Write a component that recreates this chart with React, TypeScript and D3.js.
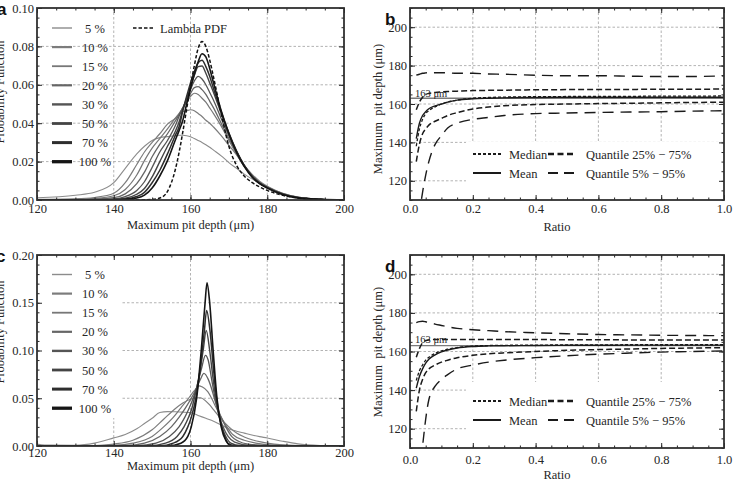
import { useEffect, useRef } from "react";
import * as d3 from "d3";

const WIDTH = 736;
const HEIGHT = 480;

// Inspected share of the surface, one curve per level in panels (a) and (c)
const LEVELS = ["5 %", "10 %", "15 %", "20 %", "30 %", "50 %", "70 %", "100 %"];

// Panel (a): probability function of the maximum pit depth (µm)
const DEPTH_A = [
  120, 130, 135, 140, 143, 146, 148, 150, 152, 154, 156, 157, 158, 159, 160, 161,
  162, 163, 164, 165, 166, 168, 170, 172, 174, 176, 178, 180, 184, 188, 194, 200,
];
const PDF_A_05 = [
  0.0012, 0.0025, 0.004, 0.009, 0.0165, 0.024, 0.028, 0.031, 0.0325, 0.033, 0.0335, 0.0337, 0.0337, 0.0335, 0.033, 0.032,
  0.031, 0.03, 0.0288, 0.0275, 0.026, 0.023, 0.0195, 0.0165, 0.0135, 0.011, 0.0088, 0.007, 0.0035, 0.0015, 0.0004, 0,
];
const PDF_A_10 = [
  0.0003, 0.0006, 0.0013, 0.0035, 0.009, 0.0185, 0.025, 0.03, 0.0345, 0.0395, 0.0425, 0.0445, 0.046, 0.0465, 0.047, 0.0465,
  0.045, 0.0435, 0.0415, 0.04, 0.038, 0.0335, 0.0285, 0.0235, 0.018, 0.0135, 0.0098, 0.0072, 0.0035, 0.0015, 0.0004, 0,
];
const PDF_A_15 = [
  0.0002, 0.0004, 0.0008, 0.0022, 0.0055, 0.013, 0.0205, 0.027, 0.032, 0.037, 0.0425, 0.045, 0.048, 0.051, 0.054, 0.0556,
  0.055, 0.053, 0.051, 0.048, 0.045, 0.0385, 0.031, 0.024, 0.0175, 0.0125, 0.0092, 0.0068, 0.0033, 0.0014, 0.0004, 0,
];
const PDF_A_20 = [
  0.0001, 0.0002, 0.0005, 0.0012, 0.0032, 0.0085, 0.0145, 0.0225, 0.029, 0.0345, 0.041, 0.0445, 0.048, 0.052, 0.0555, 0.0585,
  0.059, 0.0575, 0.055, 0.0515, 0.048, 0.04, 0.032, 0.0245, 0.0175, 0.0125, 0.009, 0.0066, 0.0032, 0.0014, 0.0003, 0,
];
const PDF_A_30 = [
  0, 0.0001, 0.0002, 0.0006, 0.0018, 0.005, 0.0095, 0.017, 0.025, 0.031, 0.0385, 0.0435, 0.048, 0.0525, 0.0575, 0.062,
  0.0644, 0.063, 0.06, 0.056, 0.052, 0.0425, 0.0335, 0.0252, 0.018, 0.0127, 0.009, 0.0066, 0.0032, 0.0013, 0.0003, 0,
];
const PDF_A_50 = [
  0, 0, 0.0001, 0.0003, 0.0009, 0.003, 0.006, 0.012, 0.02, 0.028, 0.0355, 0.0405, 0.047, 0.053, 0.059, 0.065,
  0.0695, 0.0698, 0.066, 0.061, 0.056, 0.045, 0.0345, 0.0255, 0.018, 0.0125, 0.0088, 0.0065, 0.003, 0.0012, 0.0003, 0,
];
const PDF_A_70 = [
  0, 0, 0, 0.0002, 0.0005, 0.0018, 0.004, 0.009, 0.0155, 0.024, 0.0335, 0.038, 0.0465, 0.054, 0.061, 0.067,
  0.0715, 0.0728, 0.0695, 0.0645, 0.058, 0.046, 0.035, 0.0255, 0.018, 0.0125, 0.0087, 0.0064, 0.003, 0.0012, 0.0003, 0,
];
const PDF_A_100 = [
  0, 0, 0, 0.0001, 0.0003, 0.001, 0.0025, 0.0062, 0.0125, 0.0205, 0.031, 0.036, 0.0415, 0.05, 0.058, 0.0655,
  0.072, 0.0762, 0.0745, 0.0685, 0.061, 0.0465, 0.0345, 0.0248, 0.0175, 0.012, 0.0085, 0.0062, 0.0029, 0.0011, 0.0003, 0,
];
const LAMBDA_A = [
  0, 0, 0, 0, 0, 0, 0.0001, 0.0003, 0.001, 0.0045, 0.0155, 0.0245, 0.0355, 0.0475, 0.059, 0.07,
  0.079, 0.0825, 0.08, 0.073, 0.064, 0.045, 0.028, 0.018, 0.0125, 0.0092, 0.0068, 0.005, 0.0024, 0.001, 0.0002, 0,
];

// Panel (c): same levels, second data set, as (depth, probability) pairs
const PDF_C_05: [number, number][] = [
  [120, 0.002], [122, 0.001], [130, 0.0008], [135, 0.003], [140, 0.0085], [143, 0.012], [146, 0.018],
  [148, 0.0235], [150, 0.029], [152, 0.035], [154, 0.036], [156, 0.0358], [158, 0.0355], [160, 0.035],
  [162, 0.032], [164, 0.029], [166, 0.026], [168, 0.022], [170, 0.018], [172, 0.0155], [174, 0.0135],
  [176, 0.0115], [178, 0.0098], [180, 0.0084], [184, 0.005], [188, 0.0022], [194, 0.0005], [200, 0],
];
const PDF_C_10: [number, number][] = [
  [120, 0], [135, 0.0005], [140, 0.002], [145, 0.006], [150, 0.017], [153, 0.028], [156, 0.039],
  [158, 0.045], [160, 0.049], [162.6, 0.0505], [164, 0.047], [165, 0.043], [166, 0.038], [167, 0.033],
  [168, 0.028], [169, 0.024], [170, 0.02], [172, 0.0135], [174, 0.0095], [176, 0.0065], [178, 0.0045],
  [180, 0.003], [184, 0.0012], [188, 0.0004], [200, 0],
];
const PDF_C_15: [number, number][] = [
  [120, 0], [140, 0.0008], [145, 0.003], [150, 0.01], [153, 0.02], [155.5, 0.03], [157.5, 0.04],
  [159.5, 0.05], [161, 0.058], [162.3, 0.063], [163, 0.062], [164.5, 0.057], [165.5, 0.05], [166.7, 0.04],
  [168, 0.03], [169.5, 0.02], [171, 0.012], [174, 0.006], [177, 0.003], [181, 0.001], [200, 0],
];
const PDF_C_20: [number, number][] = [
  [120, 0], [143, 0.0005], [148, 0.003], [152, 0.01], [155, 0.02], [157, 0.03], [158.7, 0.04],
  [160.2, 0.05], [161.5, 0.06], [162.6, 0.07], [163.5, 0.076], [164.6, 0.07], [165.5, 0.06], [166.2, 0.05],
  [167, 0.04], [168, 0.03], [169.2, 0.02], [170.7, 0.01], [172.5, 0.005], [175, 0.002], [180, 0.0005], [200, 0],
];
const PDF_C_30: [number, number][] = [
  [120, 0], [146, 0.0004], [151, 0.003], [154.5, 0.01], [157, 0.02], [158.5, 0.03], [159.7, 0.04],
  [160.7, 0.05], [161.5, 0.06], [162.8, 0.08], [163.9, 0.095], [164.6, 0.09], [165.5, 0.07], [166.4, 0.05],
  [167.6, 0.03], [168.5, 0.02], [169.8, 0.01], [171.5, 0.004], [175, 0.001], [200, 0],
];
const PDF_C_50: [number, number][] = [
  [120, 0], [149, 0.0003], [153.5, 0.003], [156.5, 0.01], [158.3, 0.02], [159.5, 0.03], [160.4, 0.04],
  [161, 0.05], [162.1, 0.07], [163.3, 0.1], [164.1, 0.121], [165, 0.1], [165.9, 0.07], [166.6, 0.05],
  [167.5, 0.03], [168.2, 0.02], [169.2, 0.01], [170.5, 0.003], [173, 0.0005], [200, 0],
];
const PDF_C_70: [number, number][] = [
  [120, 0], [152, 0.0003], [155.5, 0.003], [158, 0.01], [159.3, 0.02], [160.2, 0.03], [161.4, 0.05],
  [162.5, 0.08], [163.6, 0.12], [164.2, 0.142], [165.1, 0.12], [166, 0.08], [166.8, 0.05], [167.6, 0.03],
  [168.9, 0.01], [170, 0.002], [172, 0], [200, 0],
];
const PDF_C_100: [number, number][] = [
  [120, 0], [154, 0.0003], [157.5, 0.003], [159.3, 0.01], [160.2, 0.02], [161.6, 0.05], [162.8, 0.1],
  [163.8, 0.15], [164.3, 0.171], [165, 0.15], [165.9, 0.1], [166.9, 0.05], [168, 0.02], [169.3, 0.005],
  [170.5, 0.0005], [172, 0], [200, 0],
];

// Panels (b) and (d): statistics of the maximum pit depth versus inspected ratio
const RATIO = [0.02, 0.03, 0.04, 0.05, 0.06, 0.08, 0.1, 0.12, 0.15, 0.2, 0.25, 0.3, 0.4, 0.5, 0.6, 0.7, 0.8, 0.9, 1.0];

const MEAN_B = [142, 150, 154, 156, 157.5, 159, 160, 161, 162, 162.7, 163, 163.2, 163.4, 163.5, 163.5, 163.5, 163.5, 163.5, 163.5];
const MEDIAN_B = [138, 147, 152, 155, 156.5, 158.5, 160, 161, 162, 163, 163.4, 163.6, 163.8, 163.9, 164, 164, 164.1, 164.1, 164.2];
const Q75_B = [157, 161, 163.5, 165, 165.5, 166, 166.3, 166.5, 166.7, 167, 167.1, 167.2, 167.4, 167.5, 167.6, 167.6, 167.7, 167.7, 167.8];
const Q25_B = [130, 139, 144.5, 147, 149, 151, 152.5, 154, 155.5, 157.4, 158.4, 159.1, 159.7, 160, 160.2, 160.4, 160.6, 160.8, 160.9];
const Q95_B = [175, 175.5, 176, 176.2, 176.3, 176.3, 176.3, 176.2, 176, 176, 175.6, 175.5, 175, 174.7, 174.7, 174.5, 174.3, 174.3, 174.7];
const Q05_B = [92, 103, 114, 123, 130, 139, 143.5, 147.5, 150, 152, 153, 154, 155, 155.3, 155.6, 155.8, 156, 156.3, 156.5];

const MEAN_D = [141, 147, 151, 154, 156, 158.3, 159.8, 160.8, 161.8, 162.6, 162.9, 163, 163.1, 163.2, 163.2, 163.3, 163.3, 163.3, 163.3];
const MEDIAN_D = [145, 150, 153, 155.5, 157, 159, 160.3, 161.2, 162, 162.8, 163.1, 163.2, 163.3, 163.4, 163.4, 163.5, 163.5, 163.5, 163.5];
const Q75_D = [157, 161.5, 164.5, 165.6, 166, 166.2, 166.2, 166.2, 166.2, 166.2, 166.2, 166.2, 166.2, 166.1, 166.1, 166, 166, 166, 166];
const Q25_D = [129, 140, 145.5, 149, 151, 153, 154.5, 155.5, 156.8, 158, 158.8, 159.3, 160, 160.6, 161, 161.3, 161.6, 161.8, 162];
const Q95_D = [175, 175.5, 175.7, 175.4, 175, 174.2, 173.5, 172.8, 172, 171.3, 170.8, 170.3, 169.7, 169.2, 168.8, 168.6, 168.4, 168.3, 168.2];
const Q05_D = [85, 98, 111, 125, 135, 142, 145.5, 148, 151, 153, 154.5, 155.5, 156.8, 157.8, 158.6, 159.2, 159.7, 160, 160.3];

const REFERENCE_DEPTH = 163;
const REFERENCE_LABEL = "163 μm";

// ---------------------------------------------------------------- styles
const SERIF = "'Liberation Serif', 'Times New Roman', serif";
const SANS = "'Liberation Sans', Arial, sans-serif";
const INK = "#262626";
const GRID = "#a0a0a0";
const FONT = 12.5;

const LEVEL_COLORS = ["#8c8c8c", "#7c7c7c", "#777777", "#666666", "#555555", "#444444", "#2e2e2e", "#151515"];
const LEVEL_WIDTHS = [1.1, 1.2, 1.2, 1.3, 1.3, 1.4, 1.5, 1.6];
const LEGEND_WIDTHS = [1.4, 2.2, 1.8, 2.2, 2.4, 2.8, 3, 3.3];

interface Frame {
  left: number;
  right: number;
  top: number;
  bottom: number;
}

type Sel = d3.Selection<SVGGElement, unknown, null, undefined>;

interface AxisSpec {
  xMajor: number[];
  xMinor: number[];
  yMajor: number[];
  yMinor: number[];
  xFormat: (v: number) => string;
  yFormat: (v: number) => string;
  xPad: number;
}

function styleAxis(s: Sel) {
  s.select(".domain").remove();
  s.selectAll("line").attr("stroke", INK).attr("stroke-width", 1);
  s.selectAll("text").attr("fill", INK).attr("font-family", SERIF).attr("font-size", FONT);
}

function drawGrid(g: Sel, x: d3.ScaleLinear<number, number>, y: d3.ScaleLinear<number, number>, f: Frame, gx: number[], gy: number[]) {
  const grid = g.append("g").attr("stroke", GRID).attr("stroke-width", 0.8).attr("stroke-dasharray", "2.5,2");
  gx.forEach((v) => {
    grid.append("line").attr("x1", x(v)).attr("x2", x(v)).attr("y1", f.top).attr("y2", f.bottom);
  });
  gy.forEach((v) => {
    grid.append("line").attr("x1", f.left).attr("x2", f.right).attr("y1", y(v)).attr("y2", y(v));
  });
}

function drawFrame(g: Sel, x: d3.ScaleLinear<number, number>, y: d3.ScaleLinear<number, number>, f: Frame, spec: AxisSpec) {
  const none = () => "";
  g.append("g")
    .attr("transform", `translate(0,${f.bottom})`)
    .call(d3.axisBottom(x).tickValues(spec.xMajor).tickSize(-5).tickPadding(spec.xPad).tickFormat((v) => spec.xFormat(Number(v))))
    .call(styleAxis);
  g.append("g")
    .attr("transform", `translate(0,${f.bottom})`)
    .call(d3.axisBottom(x).tickValues(spec.xMinor).tickSize(-2.5).tickFormat(none))
    .call(styleAxis);
  g.append("g")
    .attr("transform", `translate(0,${f.top})`)
    .call(d3.axisTop(x).tickValues(spec.xMajor).tickSize(-5).tickFormat(none))
    .call(styleAxis);
  g.append("g")
    .attr("transform", `translate(0,${f.top})`)
    .call(d3.axisTop(x).tickValues(spec.xMinor).tickSize(-2.5).tickFormat(none))
    .call(styleAxis);
  g.append("g")
    .attr("transform", `translate(${f.left},0)`)
    .call(d3.axisLeft(y).tickValues(spec.yMajor).tickSize(-5).tickPadding(3).tickFormat((v) => spec.yFormat(Number(v))))
    .call(styleAxis);
  g.append("g")
    .attr("transform", `translate(${f.left},0)`)
    .call(d3.axisLeft(y).tickValues(spec.yMinor).tickSize(-2.5).tickFormat(none))
    .call(styleAxis);
  g.append("g")
    .attr("transform", `translate(${f.right},0)`)
    .call(d3.axisRight(y).tickValues(spec.yMajor).tickSize(-5).tickFormat(none))
    .call(styleAxis);
  g.append("g")
    .attr("transform", `translate(${f.right},0)`)
    .call(d3.axisRight(y).tickValues(spec.yMinor).tickSize(-2.5).tickFormat(none))
    .call(styleAxis);
  g.append("rect")
    .attr("x", f.left)
    .attr("y", f.top)
    .attr("width", f.right - f.left)
    .attr("height", f.bottom - f.top)
    .attr("fill", "none")
    .attr("stroke", "#303030")
    .attr("stroke-width", 1.8);
}

function addText(g: Sel, x: number, y: number, text: string, size = FONT, anchor = "start") {
  return g
    .append("text")
    .attr("x", x)
    .attr("y", y)
    .attr("text-anchor", anchor)
    .attr("font-family", SERIF)
    .attr("font-size", size)
    .attr("fill", INK)
    .style("white-space", "pre")
    .text(text);
}

function addLetter(g: Sel, x: number, y: number, letter: string) {
  g.append("text")
    .attr("x", x)
    .attr("y", y)
    .attr("font-family", SANS)
    .attr("font-weight", "bold")
    .attr("font-size", 17)
    .attr("fill", "#111")
    .text(letter);
}

function addYTitle(g: Sel, x: number, y: number, text: string) {
  g.append("text")
    .attr("transform", `translate(${x},${y}) rotate(-90)`)
    .attr("text-anchor", "middle")
    .attr("font-family", SERIF)
    .attr("font-size", FONT)
    .attr("fill", INK)
    .style("white-space", "pre")
    .text(text);
}

function clipTo(svg: Sel, id: string, f: Frame) {
  svg
    .append("clipPath")
    .attr("id", id)
    .append("rect")
    .attr("x", f.left)
    .attr("y", f.top)
    .attr("width", f.right - f.left)
    .attr("height", f.bottom - f.top);
  return svg.append("g").attr("clip-path", `url(#${id})`);
}

interface DistributionPanel {
  id: string;
  letter: string;
  frame: Frame;
  yMax: number;
  yMajor: number[];
  yMinor: number[];
  gridY: number[];
  curves: [number, number][][];
  lambda?: [number, number][];
  legendTop: number;
  legendBox?: Frame;
  letterX: number;
  titleY: number;
  xPad: number;
  xTitleBaseline: number;
}

function drawDistribution(root: Sel, p: DistributionPanel) {
  const f = p.frame;
  const x = d3.scaleLinear().domain([120, 200]).range([f.left, f.right]);
  const y = d3.scaleLinear().domain([0, p.yMax]).range([f.bottom, f.top]);
  const g = root.append("g");

  drawGrid(g, x, y, f, [140, 160, 180], p.gridY);
  if (p.legendBox) {
    const b = p.legendBox;
    g.append("rect").attr("x", b.left).attr("y", b.top).attr("width", b.right - b.left).attr("height", b.bottom - b.top).attr("fill", "#fff");
  }

  const line = d3
    .line<[number, number]>()
    .x((d) => x(d[0]))
    .y((d) => y(d[1]))
    .curve(d3.curveMonotoneX);

  const plot = clipTo(g, `clip-${p.id}`, f);
  p.curves.forEach((c, i) => {
    plot
      .append("path")
      .attr("d", line(c))
      .attr("fill", "none")
      .attr("stroke", LEVEL_COLORS[i])
      .attr("stroke-width", LEVEL_WIDTHS[i])
      .attr("stroke-linejoin", "round");
  });
  if (p.lambda) {
    plot
      .append("path")
      .attr("d", line(p.lambda))
      .attr("fill", "none")
      .attr("stroke", "#111")
      .attr("stroke-width", 1.5)
      .attr("stroke-dasharray", "3.5,2");
  }

  drawFrame(g, x, y, f, {
    xMajor: [120, 140, 160, 180, 200],
    xMinor: d3.range(120, 201, 5),
    yMajor: p.yMajor,
    yMinor: p.yMinor,
    xFormat: (v) => d3.format("d")(v),
    yFormat: (v) => d3.format(".2f")(v),
    xPad: p.xPad,
  });

  // legend
  LEVELS.forEach((label, i) => {
    const ly = p.legendTop + i * 19.1;
    g.append("line")
      .attr("x1", 52)
      .attr("x2", 72)
      .attr("y1", ly)
      .attr("y2", ly)
      .attr("stroke", LEVEL_COLORS[i])
      .attr("stroke-width", LEGEND_WIDTHS[i]);
    addText(g, 95, ly + 4.5, label, FONT, "middle");
  });
  if (p.lambda) {
    g.append("line")
      .attr("x1", 133)
      .attr("x2", 153)
      .attr("y1", p.legendTop)
      .attr("y2", p.legendTop)
      .attr("stroke", "#111")
      .attr("stroke-width", 1.6)
      .attr("stroke-dasharray", "3.5,2");
    addText(g, 160, p.legendTop + 4.5, "Lambda PDF");
  }

  addYTitle(g, 4, p.titleY, "Probability Function");
  addText(g, (f.left + f.right) / 2, p.xTitleBaseline, "Maximum pit depth (μm)", FONT, "middle");
  addLetter(g, p.letterX, f.top + 7, p.letter);
}

interface StatsPanel {
  id: string;
  letter: string;
  frame: Frame;
  mean: number[];
  median: number[];
  q25: number[];
  q75: number[];
  q05: number[];
  q95: number[];
  legendRow: number;
  legendBox: Frame;
  refLabelBaseline: number;
  titleY: number;
  xPad: number;
  xTitleBaseline: number;
}

const MEDIAN_DASH = "3,2";
const QUARTILE_DASH = "6,3";
const TAIL_DASH = "11,7";

function drawStats(root: Sel, p: StatsPanel) {
  const f = p.frame;
  const x = d3.scaleLinear().domain([0, 1]).range([f.left, f.right]);
  const y = d3.scaleLinear().domain([110, 210]).range([f.bottom, f.top]);
  const g = root.append("g");

  drawGrid(g, x, y, f, [0.2, 0.4, 0.6, 0.8], [120, 140, 160, 180, 200]);
  const b = p.legendBox;
  g.append("rect").attr("x", b.left).attr("y", b.top).attr("width", b.right - b.left).attr("height", b.bottom - b.top).attr("fill", "#fff");

  const line = d3
    .line<number>()
    .x((_, i) => x(RATIO[i]))
    .y((d) => y(d))
    .curve(d3.curveMonotoneX);

  const plot = clipTo(g, `clip-${p.id}`, f);
  plot
    .append("line")
    .attr("x1", f.left)
    .attr("x2", f.right)
    .attr("y1", y(REFERENCE_DEPTH))
    .attr("y2", y(REFERENCE_DEPTH))
    .attr("stroke", "#7a7a7a")
    .attr("stroke-width", 1.3);

  const series: { values: number[]; dash: string | null; width: number }[] = [
    { values: p.q95, dash: TAIL_DASH, width: 1.4 },
    { values: p.q05, dash: TAIL_DASH, width: 1.4 },
    { values: p.q75, dash: QUARTILE_DASH, width: 1.5 },
    { values: p.q25, dash: QUARTILE_DASH, width: 1.5 },
    { values: p.median, dash: MEDIAN_DASH, width: 1.3 },
    { values: p.mean, dash: null, width: 1.4 },
  ];
  series.forEach((s) => {
    const path = plot
      .append("path")
      .attr("d", line(s.values))
      .attr("fill", "none")
      .attr("stroke", "#1a1a1a")
      .attr("stroke-width", s.width);
    if (s.dash) path.attr("stroke-dasharray", s.dash);
  });

  addText(g, f.left + 5, p.refLabelBaseline, REFERENCE_LABEL, 10.5);

  drawFrame(g, x, y, f, {
    xMajor: [0, 0.2, 0.4, 0.6, 0.8, 1],
    xMinor: d3.range(0, 1.001, 0.05),
    yMajor: [120, 140, 160, 180, 200],
    yMinor: d3.range(110, 211, 5),
    xFormat: (v) => d3.format(".1f")(v),
    yFormat: (v) => d3.format("d")(v),
    xPad: p.xPad,
  });

  // legend, two columns by two rows
  const entries: { label: string; dash: string | null; width: number; col: number; row: number }[] = [
    { label: "Median", dash: MEDIAN_DASH, width: 2, col: 0, row: 0 },
    { label: "Quantile 25% − 75%", dash: "6,3.5", width: 2.6, col: 1, row: 0 },
    { label: "Mean", dash: null, width: 2, col: 0, row: 1 },
    { label: "Quantile 5% − 95%", dash: "10,6", width: 2, col: 1, row: 1 },
  ];
  entries.forEach((e) => {
    const lx = e.col === 0 ? 473 : 548;
    const tx = e.col === 0 ? 509 : 586;
    const ly = p.legendRow + e.row * 19;
    const l = g
      .append("line")
      .attr("x1", lx)
      .attr("x2", lx + 28)
      .attr("y1", ly)
      .attr("y2", ly)
      .attr("stroke", "#1a1a1a")
      .attr("stroke-width", e.width);
    if (e.dash) l.attr("stroke-dasharray", e.dash);
    addText(g, tx, ly + 4.5, e.label);
  });

  addYTitle(g, 382, p.titleY, "Maximum  pit depth (μm)");
  addText(g, 557, p.xTitleBaseline, "Ratio", FONT, "middle");
  addLetter(g, 385, f.top + 17, p.letter);
}

export default function App() {
  const svgRef = useRef<SVGSVGElement | null>(null);

  useEffect(() => {
    const svgEl = svgRef.current;
    if (!svgEl) return;
    const svg = d3.select(svgEl);
    svg.selectAll("*").remove();
    const root = svg.append("g") as unknown as Sel;
    root.append("rect").attr("width", WIDTH).attr("height", HEIGHT).attr("fill", "#fff");

    const zip = (values: number[]) => DEPTH_A.map((d, i) => [d, values[i]] as [number, number]);

    drawDistribution(root, {
      id: "a",
      letter: "a",
      frame: { left: 37, right: 344, top: 8, bottom: 200 },
      yMax: 0.1,
      yMajor: [0, 0.02, 0.04, 0.06, 0.08, 0.1],
      yMinor: d3.range(0, 0.1001, 0.005),
      gridY: [0.02, 0.04, 0.06, 0.08],
      curves: [PDF_A_05, PDF_A_10, PDF_A_15, PDF_A_20, PDF_A_30, PDF_A_50, PDF_A_70, PDF_A_100].map(zip),
      lambda: zip(LAMBDA_A),
      legendTop: 28,
      letterX: -3,
      titleY: 92,
      xPad: 4,
      xTitleBaseline: 229,
    });

    drawDistribution(root, {
      id: "c",
      letter: "c",
      frame: { left: 37, right: 344, top: 255, bottom: 446 },
      yMax: 0.2,
      yMajor: [0, 0.05, 0.1, 0.15, 0.2],
      yMinor: d3.range(0, 0.2001, 0.01),
      gridY: [0.05, 0.1, 0.15],
      curves: [PDF_C_05, PDF_C_10, PDF_C_15, PDF_C_20, PDF_C_30, PDF_C_50, PDF_C_70, PDF_C_100],
      legendTop: 274.5,
      legendBox: { left: 38, right: 121, top: 256, bottom: 418 },
      letterX: -4,
      titleY: 332,
      xPad: 2,
      xTitleBaseline: 470,
    });

    drawStats(root, {
      id: "b",
      letter: "b",
      frame: { left: 410, right: 724, top: 8, bottom: 200 },
      mean: MEAN_B,
      median: MEDIAN_B,
      q25: Q25_B,
      q75: Q75_B,
      q05: Q05_B,
      q95: Q95_B,
      legendRow: 154,
      legendBox: { left: 466, right: 723, top: 142, bottom: 199 },
      refLabelBaseline: 96.5,
      titleY: 109,
      xPad: 4,
      xTitleBaseline: 231,
    });

    drawStats(root, {
      id: "d",
      letter: "d",
      frame: { left: 410, right: 724, top: 255, bottom: 448 },
      mean: MEAN_D,
      median: MEDIAN_D,
      q25: Q25_D,
      q75: Q75_D,
      q05: Q05_D,
      q95: Q95_D,
      legendRow: 401,
      legendBox: { left: 466, right: 723, top: 382, bottom: 447 },
      refLabelBaseline: 343,
      titleY: 352,
      xPad: 7,
      xTitleBaseline: 479,
    });
  }, []);

  return (
    <svg
      ref={svgRef}
      width={WIDTH}
      height={HEIGHT}
      style={{ position: "absolute", left: 0, top: 0, display: "block" }}
    />
  );
}
